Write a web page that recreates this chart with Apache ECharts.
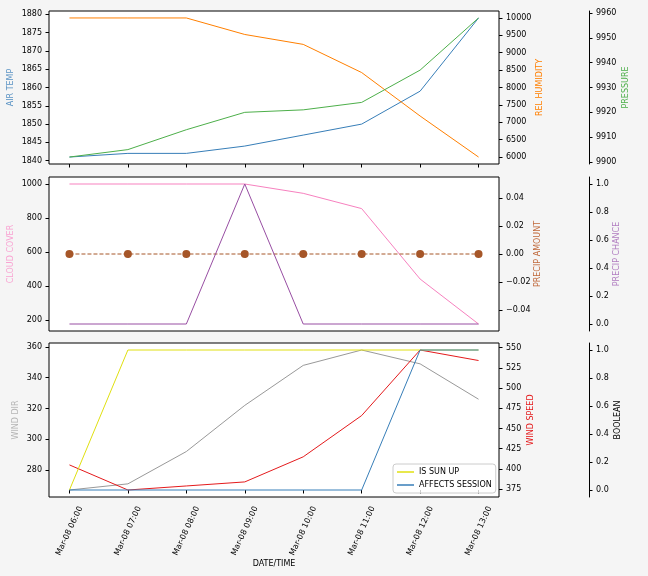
<!DOCTYPE html>
<html><head><meta charset="utf-8">
<script src="https://cdn.jsdelivr.net/npm/echarts@6/dist/echarts.min.js"></script>
<style>html,body{margin:0;padding:0;background:#f5f5f5}#c{width:648px;height:576px}</style>
</head><body><div id="c"></div><script>
const categories=['Mar-08 06:00','Mar-08 07:00','Mar-08 08:00','Mar-08 09:00','Mar-08 10:00','Mar-08 11:00','Mar-08 12:00','Mar-08 13:00'];
const airTemp=[1841,1842,1842,1844,1847,1850,1859,1879];
const relHumidity=[10000,10000,10000,9525,9240,8430,7180,6000];
const pressure=[9902,9905,9913,9920,9921,9924,9937,9958];
const cloudCover=[1000,1000,1000,1000,945,855,440,175];
const precipAmount=[0,0,0,0,0,0,0,0];
const precipChance=[0,0,0,1,0,0,0,0];
const windDir=[267,271,292,322,348,358,349,326];
const windSpeed=[405,374,379,384,415,466,547,534];
const isSunUp=[0,1,1,1,1,1,1,1];
const affectsSession=[0,0,0,0,0,0,1,1];

const airTempTicks=[1840,1845,1850,1855,1860,1865,1870,1875,1880];
const humidityTicks=[6000,6500,7000,7500,8000,8500,9000,9500,10000];
const pressureTicks=[9900,9910,9920,9930,9940,9950,9960];
const cloudTicks=[200,400,600,800,1000];
const precipAmountTicks=[-0.04,-0.02,0,0.02,0.04];
const chanceTicks=[0,0.2,0.4,0.6,0.8,1.0];
const windDirTicks=[280,300,320,340,360];
const windSpeedTicks=[375,400,425,450,475,500,525,550];
const boolTicks=[0,0.2,0.4,0.6,0.8,1.0];

const FONT='DejaVu Sans';
const idx=categories.map((c,i)=>i);
function pad(a){const mn=Math.min(...a),mx=Math.max(...a),r=mx-mn;return [mn-0.05*r,mx+0.05*r];}
function fmtDec(d){return v=>(v<-1e-9?'\u2212':'')+Math.abs(v).toFixed(d);}
const tickStyle={show:true,length:3.5,lineStyle:{color:'#000',width:1}};

function xAx(gi,showLabels){
  return {type:'value',gridIndex:gi,min:-0.35,max:7.35,splitLine:{show:false},
    axisLine:{show:false},
    axisTick:Object.assign({customValues:idx},tickStyle),
    axisLabel:{show:showLabels,customValues:idx,formatter:v=>categories[Math.round(v)],rotate:65,align:'center',verticalAlign:'middle',fontSize:8,color:'#000',fontFamily:FONT,margin:34},
    name:showLabels?'DATE/TIME':'',nameLocation:'middle',nameGap:63,nameMoveOverlap:false,nameTextStyle:{fontSize:8,color:'#000',fontFamily:FONT}};
}
function yAx(gi,pos,offset,range,ticks,fmt,name,nameColor,nameGap){
  return {type:'value',gridIndex:gi,position:pos,offset:offset,min:range[0],max:range[1],
    splitLine:{show:false},
    axisLine:{show:offset>0,onZero:false,lineStyle:{color:'#000',width:1}},
    axisTick:Object.assign({customValues:ticks},tickStyle),
    axisLabel:{customValues:ticks,formatter:fmt,fontSize:8,color:'#000',fontFamily:FONT,margin:7},
    name:name,nameLocation:'middle',nameRotate:90,nameGap:nameGap,nameMoveOverlap:false,
    nameTextStyle:{fontSize:8,color:nameColor,fontFamily:FONT}};
}
function ln(name,arr,xi,yi,color,extra){
  return Object.assign({type:'line',name:name,xAxisIndex:xi,yAxisIndex:yi,data:arr.map((v,i)=>[i,v]),
    symbol:'none',lineStyle:{width:1,color:color},itemStyle:{color:color},animation:false},extra||{});
}
const C={air:'#377eb8',hum:'#ff7f00',pres:'#4daf4a',cloud:'#f781bf',pamt:'#a65628',pch:'#984ea3',wdir:'#999999',wspd:'#e41a1c',sun:'#e0e010',aff:'#377eb8'};
const gridBase={left:49,width:450,show:true,borderColor:'#000',borderWidth:1,backgroundColor:'#fff',containLabel:false,outerBoundsMode:'none'};
const option={
  backgroundColor:'#f5f5f5',animation:false,
  grid:[Object.assign({top:11,height:153},gridBase),Object.assign({top:177,height:154},gridBase),Object.assign({top:343,height:154},gridBase)],
  xAxis:[xAx(0,false),xAx(1,false),xAx(2,true)],
  yAxis:[
    yAx(0,'left',0,pad(airTemp),airTempTicks,v=>String(v),'AIR TEMP','#5b93c4',34),
    yAx(0,'right',0,pad(relHumidity),humidityTicks,v=>String(v),'REL HUMIDITY',C.hum,37),
    yAx(0,'right',90,pad(pressure),pressureTicks,v=>String(v),'PRESSURE',C.pres,33),
    yAx(1,'left',0,pad(cloudCover),cloudTicks,v=>String(v),'CLOUD COVER','#f9a3d2',34),
    yAx(1,'right',0,[-0.055,0.055],precipAmountTicks,fmtDec(2),'PRECIP AMOUNT','#c0683a',35),
    yAx(1,'right',90,[-0.05,1.05],chanceTicks,fmtDec(1),'PRECIP CHANCE','#b07cc0',24),
    yAx(2,'left',0,pad(windDir),windDirTicks,v=>String(v),'WIND DIR','#b5b5b5',29),
    yAx(2,'right',0,pad(windSpeed),windSpeedTicks,v=>String(v),'WIND SPEED',C.wspd,28),
    yAx(2,'right',90,[-0.05,1.05],boolTicks,fmtDec(1),'BOOLEAN','#000',25)
  ],
  legend:{data:['IS SUN UP','AFFECTS SESSION'],orient:'vertical',left:393,top:464,
    icon:'rect',itemWidth:17,itemHeight:1.5,itemGap:5,padding:[4,4,4,4],
    borderColor:'#cccccc',borderWidth:1,borderRadius:3,backgroundColor:'rgba(255,255,255,0.8)',
    textStyle:{fontSize:8,color:'#000',fontFamily:FONT}},
  series:[
    ln('AIR TEMP',airTemp,0,0,C.air),
    ln('REL HUMIDITY',relHumidity,0,1,C.hum),
    ln('PRESSURE',pressure,0,2,C.pres),
    ln('CLOUD COVER',cloudCover,1,3,C.cloud),
    ln('PRECIP AMOUNT',precipAmount,1,4,C.pamt,{symbol:'circle',symbolSize:8,lineStyle:{width:1,color:C.pamt,type:[4,2]}}),
    ln('PRECIP CHANCE',precipChance,1,5,C.pch),
    ln('WIND DIR',windDir,2,6,C.wdir),
    ln('WIND SPEED',windSpeed,2,7,C.wspd),
    ln('IS SUN UP',isSunUp,2,8,C.sun),
    ln('AFFECTS SESSION',affectsSession,2,8,C.aff)
  ]
};
const chart=echarts.init(document.getElementById('c'),null,{renderer:'canvas'});
chart.setOption(option);
</script></body></html>
